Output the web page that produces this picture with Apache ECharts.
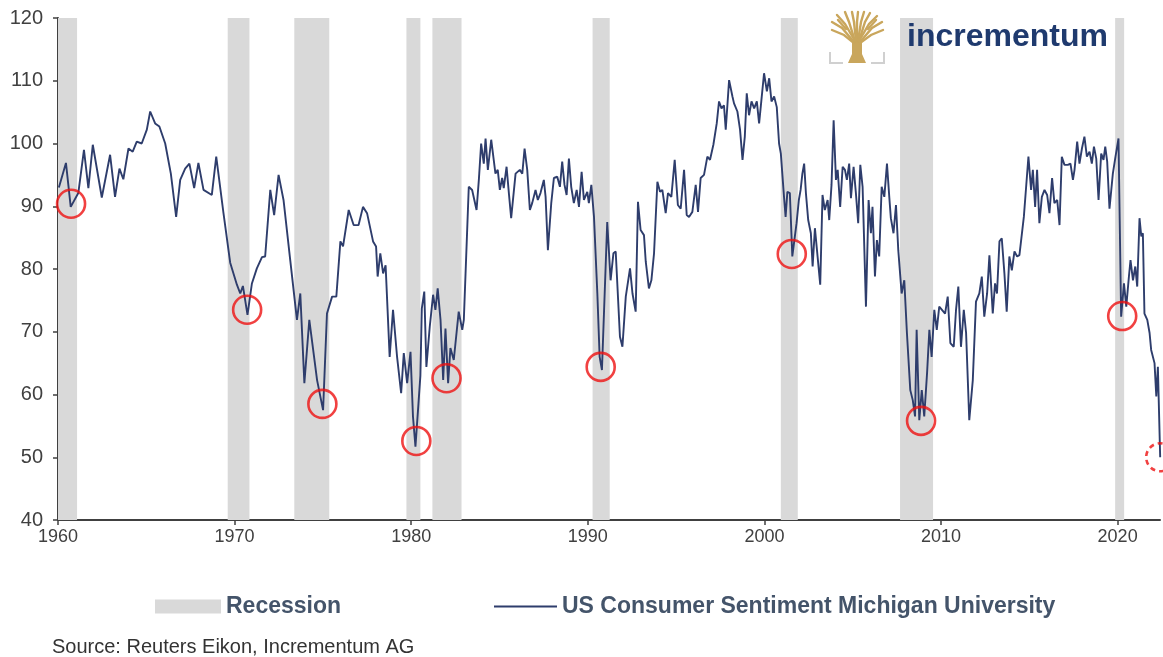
<!DOCTYPE html>
<html>
<head>
<meta charset="utf-8">
<title>US Consumer Sentiment Michigan University</title>
<script src="https://cdn.jsdelivr.net/npm/echarts@6/dist/echarts.min.js"></script>
<style>
  html, body { margin: 0; padding: 0; background: #fff; }
  #chart { width: 1163px; height: 657px; }
</style>
</head>
<body>
<div id="chart"></div>
<script>
// values (decimal year, index level)
const sentYear = [
  1960.05, 1960.45, 1960.72, 1961.15, 1961.47, 1961.72, 1961.97, 1962.48, 1962.95, 1963.23,
  1963.48, 1963.70, 1963.99, 1964.23, 1964.46, 1964.74, 1965.03, 1965.22, 1965.50, 1965.74,
  1966.07, 1966.39, 1966.69, 1966.92, 1967.20, 1967.44, 1967.71, 1967.95, 1968.24, 1968.71,
  1968.96, 1969.37, 1969.75, 1970.13, 1970.32, 1970.47, 1970.73, 1970.98, 1971.26, 1971.55,
  1971.73, 1972.02, 1972.24, 1972.49, 1972.77, 1973.15, 1973.53, 1973.72, 1973.95, 1974.23,
  1974.67, 1975.01, 1975.23, 1975.52, 1975.76, 1975.99, 1976.14, 1976.46, 1976.74, 1977.02,
  1977.27, 1977.50, 1977.84, 1978.01, 1978.10, 1978.25, 1978.41, 1978.55, 1978.78, 1978.97,
  1979.20, 1979.43, 1979.58, 1979.77, 1979.96, 1980.10, 1980.24, 1980.41, 1980.52, 1980.60,
  1980.74, 1980.86, 1981.05, 1981.24, 1981.37, 1981.50, 1981.66, 1981.81, 1981.94, 1982.09,
  1982.22, 1982.41, 1982.69, 1982.89, 1982.98, 1983.26, 1983.45, 1983.70, 1983.83, 1983.96,
  1984.11, 1984.21, 1984.34, 1984.53, 1984.77, 1984.90, 1985.02, 1985.15, 1985.24, 1985.40,
  1985.53, 1985.66, 1985.91, 1986.15, 1986.29, 1986.42, 1986.57, 1986.72, 1986.85, 1987.04,
  1987.17, 1987.32, 1987.51, 1987.61, 1987.74, 1987.93, 1988.08, 1988.27, 1988.42, 1988.55,
  1988.68, 1988.80, 1988.93, 1989.06, 1989.21, 1989.37, 1989.50, 1989.65, 1989.78, 1989.97,
  1990.06, 1990.20, 1990.35, 1990.54, 1990.67, 1990.80, 1991.10, 1991.29, 1991.45, 1991.58,
  1991.82, 1991.96, 1992.15, 1992.39, 1992.53, 1992.71, 1992.84, 1992.99, 1993.18, 1993.28,
  1993.46, 1993.60, 1993.75, 1993.94, 1994.09, 1994.22, 1994.41, 1994.54, 1994.73, 1994.92,
  1995.10, 1995.26, 1995.45, 1995.60, 1995.73, 1995.92, 1996.11, 1996.24, 1996.39, 1996.58,
  1996.77, 1996.92, 1997.11, 1997.30, 1997.43, 1997.57, 1997.71, 1997.81, 1998.00, 1998.19,
  1998.28, 1998.47, 1998.62, 1998.76, 1998.89, 1999.00, 1999.13, 1999.27, 1999.42, 1999.57,
  1999.70, 1999.83, 1999.98, 2000.14, 2000.27, 2000.40, 2000.55, 2000.70, 2000.83, 2000.93,
  2001.11, 2001.20, 2001.30, 2001.44, 2001.58, 2001.82, 2001.95, 2002.05, 2002.15, 2002.25,
  2002.35, 2002.48, 2002.63, 2002.73, 2002.86, 2003.01, 2003.16, 2003.29, 2003.42, 2003.58,
  2003.67, 2003.80, 2003.92, 2004.05, 2004.15, 2004.29, 2004.43, 2004.56, 2004.67, 2004.80,
  2004.90, 2005.05, 2005.18, 2005.31, 2005.43, 2005.56, 2005.75, 2005.90, 2006.03, 2006.12,
  2006.26, 2006.37, 2006.50, 2006.64, 2006.79, 2006.94, 2007.07, 2007.16, 2007.31, 2007.45,
  2007.58, 2007.77, 2007.92, 2008.07, 2008.26, 2008.40, 2008.53, 2008.62, 2008.77, 2008.91,
  2009.05, 2009.21, 2009.34, 2009.47, 2009.62, 2009.76, 2009.90, 2010.00, 2010.23, 2010.38,
  2010.53, 2010.72, 2010.85, 2010.98, 2011.13, 2011.29, 2011.42, 2011.60, 2011.80, 2011.98,
  2012.17, 2012.31, 2012.45, 2012.61, 2012.74, 2012.93, 2013.06, 2013.17, 2013.31, 2013.44,
  2013.59, 2013.72, 2013.87, 2014.01, 2014.16, 2014.31, 2014.44, 2014.69, 2014.82, 2014.95,
  2015.10, 2015.20, 2015.33, 2015.44, 2015.57, 2015.71, 2015.86, 2016.01, 2016.14, 2016.29,
  2016.42, 2016.58, 2016.71, 2016.84, 2016.99, 2017.18, 2017.33, 2017.47, 2017.56, 2017.71,
  2017.84, 2017.98, 2018.12, 2018.26, 2018.41, 2018.54, 2018.66, 2018.79, 2018.92, 2019.07,
  2019.20, 2019.30, 2019.41, 2019.54, 2019.73, 2019.88, 2020.05, 2020.20, 2020.36, 2020.49,
  2020.64, 2020.73, 2020.87, 2021.00, 2021.11, 2021.24, 2021.34, 2021.43, 2021.52, 2021.68,
  2021.81, 2021.90, 2022.09, 2022.19, 2022.28, 2022.41
];
const sentValue = [
  93.0, 96.9, 89.9, 92.1, 99.0, 92.9, 99.8, 91.4, 98.2, 91.5,
  96.0, 94.3, 99.2, 98.7, 100.3, 100.0, 102.2, 105.1, 103.2, 102.7,
  100.0, 95.2, 88.3, 94.2, 96.0, 96.8, 92.9, 96.9, 92.6, 91.8,
  97.9, 88.9, 81.0, 77.5, 76.1, 77.3, 72.7, 77.7, 80.1, 81.9,
  82.0, 92.6, 88.6, 95.0, 91.0, 81.4, 71.9, 76.1, 61.8, 71.9,
  62.3, 57.5, 72.9, 75.6, 75.6, 84.4, 83.6, 89.4, 87.0, 87.0,
  89.9, 88.9, 84.4, 83.6, 78.8, 82.5, 79.3, 80.6, 66.0, 73.5,
  66.0, 60.2, 66.6, 61.8, 66.8, 56.5, 51.7, 58.5, 63.0, 73.7,
  76.4, 64.4, 70.8, 75.9, 73.5, 76.9, 71.9, 62.3, 70.5, 61.8,
  67.4, 65.5, 73.2, 70.3, 71.9, 93.1, 92.6, 89.4, 94.2, 100.0,
  96.8, 100.8, 95.8, 100.6, 95.2, 95.8, 92.6, 94.5, 92.9, 96.3,
  92.1, 88.1, 95.2, 95.8, 95.2, 99.2, 95.8, 89.4, 90.5, 92.6,
  91.0, 92.1, 94.2, 91.5, 83.0, 90.5, 94.5, 94.7, 93.1, 97.1,
  93.4, 91.8, 97.6, 93.1, 90.5, 92.6, 89.9, 95.5, 91.0, 92.3,
  90.5, 93.4, 88.3, 76.1, 66.0, 63.9, 87.5, 78.2, 82.5, 82.8,
  69.2, 67.6, 75.6, 80.1, 76.1, 73.2, 90.7, 86.2, 85.4, 81.2,
  76.9, 78.2, 82.5, 93.9, 92.3, 92.6, 88.9, 92.1, 91.5, 97.4,
  90.2, 89.6, 95.8, 88.6, 88.3, 89.1, 93.4, 89.1, 94.5, 95.0,
  97.9, 97.4, 99.8, 103.2, 106.7, 105.6, 106.1, 102.2, 110.1, 107.5,
  106.4, 105.1, 102.2, 97.4, 101.1, 108.0, 104.5, 106.7, 105.6, 106.7,
  103.2, 106.9, 111.2, 108.3, 110.4, 106.7, 107.5, 105.8, 100.0, 98.4,
  91.5, 88.3, 92.3, 92.1, 82.0, 87.3, 91.0, 92.6, 95.2, 96.8,
  92.1, 87.8, 85.7, 80.4, 86.5, 82.0, 77.5, 91.8, 89.4, 91.0,
  87.8, 93.4, 103.7, 94.2, 95.8, 89.9, 96.3, 95.8, 94.2, 96.8,
  91.3, 96.3, 92.1, 87.3, 96.6, 93.1, 74.0, 91.0, 85.7, 89.9,
  78.8, 84.6, 82.0, 93.1, 91.5, 96.8, 91.5, 88.1, 85.7, 90.2,
  83.0, 76.1, 78.2, 69.8, 60.7, 59.1, 56.5, 70.3, 55.9, 60.7,
  56.5, 63.4, 70.3, 66.0, 73.5, 70.3, 74.0, 74.0, 72.9, 75.6,
  68.2, 67.6, 73.5, 77.2, 67.6, 73.5, 69.8, 55.9, 62.3, 74.8,
  76.1, 78.8, 72.4, 76.1, 82.2, 72.9, 77.7, 76.1, 84.4, 84.9,
  79.3, 73.2, 82.0, 79.8, 82.8, 82.0, 82.2, 88.3, 93.1, 97.9,
  92.6, 95.8, 89.9, 95.8, 87.3, 91.5, 92.6, 91.8, 88.9, 94.5,
  90.5, 91.0, 87.0, 97.9, 96.6, 96.6, 96.8, 94.2, 95.8, 100.3,
  96.8, 99.2, 101.1, 97.9, 98.7, 96.8, 99.5, 97.6, 91.0, 98.4,
  97.4, 99.5, 97.1, 89.6, 95.2, 97.9, 100.8, 72.4, 77.7, 74.0,
  78.8, 81.4, 78.2, 80.4, 77.2, 88.1, 85.2, 85.7, 72.9, 71.9,
  69.8, 67.1, 65.0, 59.7, 64.4, 50.0
];

// recession bands
const recStart = [1960.00, 1969.61, 1973.38, 1979.73, 1981.20, 1990.27, 2000.93, 2007.68, 2019.86];
const recEnd   = [1961.08, 1970.84, 1975.36, 1980.52, 1982.85, 1991.24, 2001.89, 2009.55, 2020.37];

// red circles round the troughs (last one dashed)
const lowYear  = [1960.74, 1970.71, 1974.97, 1980.29, 1982.00, 1990.73, 2001.55, 2008.87, 2020.26, 2022.41];
const lowValue = [90.4, 73.5, 58.5, 52.6, 62.6, 64.4, 82.4, 55.8, 72.5, 50.0];

const xTicks = [1960, 1970, 1980, 1990, 2000, 2010, 2020];

const lineName = 'US Consumer Sentiment Michigan University';
const axisColor = '#404040';
const legendColor = '#44546a';
const font = 'Liberation Sans';

const chart = echarts.init(document.getElementById('chart'));

const lowData = lowYear.map((y, i) => {
  const item = { value: [y, lowValue[i]] };
  if (i === lowYear.length - 1) item.itemStyle = { borderType: [5, 4] };
  return item;
});

// tree logo, drawn roughly
const gold = '#c9a65c';
const branches = [
  [[24, 31], [14, 23], [2, 18]],
  [[24, 30], [12, 16], [2, 10]],
  [[25, 29], [15, 12], [7, 3]],
  [[25, 29], [19, 10], [15, 0]],
  [[26, 29], [24, 10], [22, 0]],
  [[27, 29], [27, 10], [28, 0]],
  [[28, 29], [31, 10], [34, 0]],
  [[29, 29], [35, 10], [40, 1]],
  [[29, 29], [39, 12], [47, 4]],
  [[30, 30], [42, 16], [52, 10]],
  [[30, 31], [41, 23], [53, 18]],
  [[16, 17], [8, 8]],
  [[38, 17], [46, 8]]
];
const logo = [
  {
    type: 'polygon',
    shape: { points: [[22, 29], [32, 29], [32, 42], [36, 51], [18, 51], [22, 42]] },
    style: { fill: gold }
  }
].concat(branches.map(p => ({
  type: 'polyline',
  shape: { points: p },
  style: { stroke: gold, lineWidth: 2.4, lineCap: 'round', fill: null }
}))).concat([
  { type: 'polyline', shape: { points: [[0, 40], [0, 51], [13, 51]] }, style: { stroke: '#d0d0d0', lineWidth: 2, fill: null } },
  { type: 'polyline', shape: { points: [[41, 51], [54, 51], [54, 40]] }, style: { stroke: '#d0d0d0', lineWidth: 2, fill: null } }
]);

chart.setOption({
  animation: false,
  backgroundColor: '#fff',
  grid: { left: 58, right: 3, top: 18, bottom: 137 },
  legend: [
    {
      data: [{ name: 'Recession', icon: 'rect' }],
      left: 155, top: 595, padding: 0,
      itemWidth: 66, itemHeight: 14,
      selectedMode: false,
      textStyle: { fontFamily: font, fontSize: 23, fontWeight: 'bold', color: legendColor }
    },
    {
      data: [{ name: lineName, icon: 'rect' }],
      left: 494, top: 595, padding: 0,
      itemWidth: 63, itemHeight: 2,
      selectedMode: false,
      textStyle: { fontFamily: font, fontSize: 23, fontWeight: 'bold', color: legendColor }
    }
  ],
  xAxis: {
    type: 'value',
    min: 1960, max: 2022.4,
    axisLine: { show: true, onZero: false, lineStyle: { color: axisColor, width: 2 } },
    axisTick: { show: true, length: 5, customValues: xTicks, lineStyle: { color: axisColor, width: 1.5 } },
    axisLabel: {
      customValues: xTicks, margin: 8, color: axisColor, fontFamily: font, fontSize: 18,
      formatter: v => String(v)
    },
    splitLine: { show: false }
  },
  yAxis: {
    type: 'value',
    min: 40, max: 120, interval: 10,
    axisLine: { show: true, lineStyle: { color: axisColor, width: 2 } },
    axisTick: { show: true, length: 5, lineStyle: { color: axisColor, width: 1.5 } },
    axisLabel: { margin: 15, color: axisColor, fontFamily: font, fontSize: 20 },
    splitLine: { show: false }
  },
  series: [
    {
      name: 'Recession',
      type: 'bar',
      data: [],
      itemStyle: { color: '#d9d9d9' }
    },
    {
      name: lineName,
      type: 'line',
      data: sentYear.map((y, i) => [y, sentValue[i]]),
      showSymbol: false,
      symbol: 'none',
      z: 3,
      itemStyle: { color: '#2e3d6c' },
      lineStyle: { color: '#2e3d6c', width: 1.9 },
      markArea: {
        silent: true,
        itemStyle: { color: '#d9d9d9' },
        data: recStart.map((s, i) => [{ xAxis: s }, { xAxis: recEnd[i] }])
      }
    },
    {
      name: 'troughs',
      type: 'scatter',
      data: lowData,
      symbol: 'circle',
      symbolSize: 28,
      z: 4,
      clip: false,
      itemStyle: { color: 'rgba(0,0,0,0)', borderColor: '#ee1212', borderWidth: 2.6 }
    }
  ],
  graphic: [
    { type: 'group', x: 830, y: 12, z: 100, children: logo },
    {
      type: 'text', x: 907, y: 37, z: 100,
      style: { text: 'incrementum', font: 'bold 32px "Liberation Sans"', fill: '#1f3a6e', verticalAlign: 'middle' }
    },
    {
      type: 'text', x: 52, y: 647, z: 100,
      style: { text: 'Source: Reuters Eikon, Incrementum AG', font: '20px "Liberation Sans"', fill: '#333', verticalAlign: 'middle' }
    }
  ]
});
</script>
</body>
</html>
